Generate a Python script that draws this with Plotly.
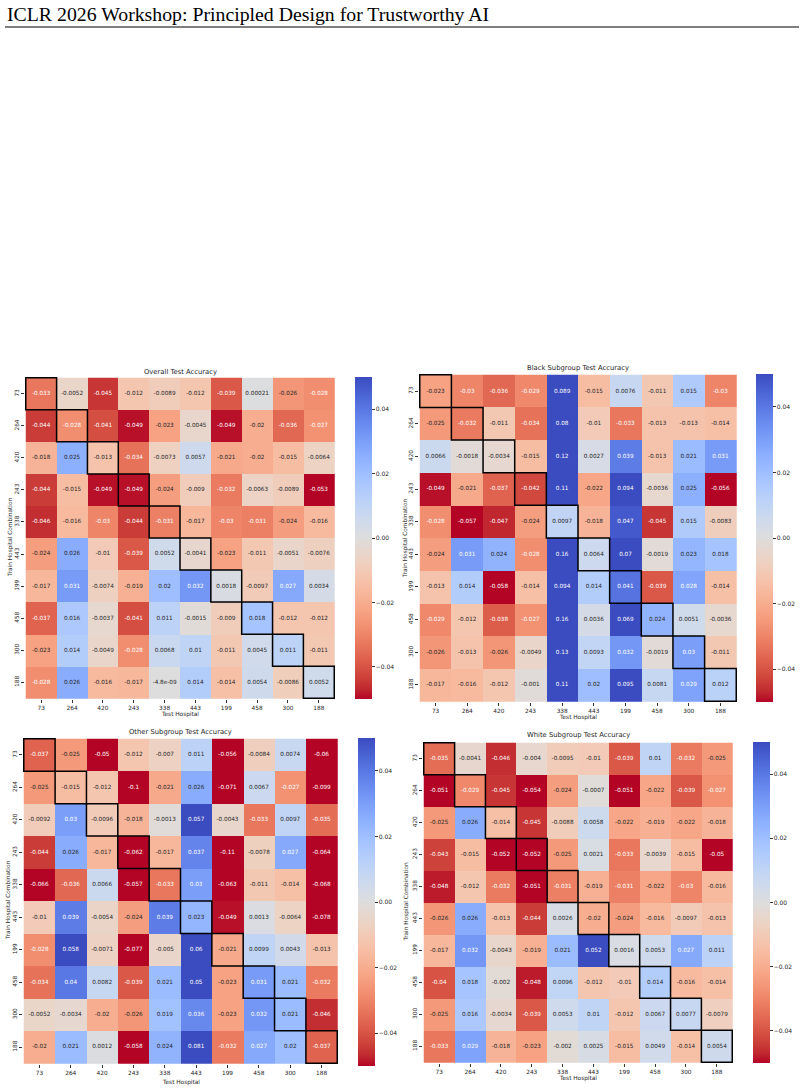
import plotly.graph_objects as go

W, H = 804, 1091

hospitals = ["73", "264", "420", "243", "338", "443", "199", "458", "300", "188"]

overall = [
    [-0.033, -0.0052, -0.045, -0.012, -0.0089, -0.012, -0.039, 0.00021, -0.026, -0.028],
    [-0.044, -0.028, -0.041, -0.049, -0.023, -0.0045, -0.049, -0.02, -0.036, -0.027],
    [-0.018, 0.025, -0.013, -0.034, -0.0073, 0.0057, -0.021, -0.02, -0.015, -0.0064],
    [-0.044, -0.015, -0.049, -0.049, -0.024, -0.009, -0.032, -0.0063, -0.0089, -0.053],
    [-0.046, -0.016, -0.03, -0.044, -0.031, -0.017, -0.03, -0.031, -0.024, -0.016],
    [-0.024, 0.026, -0.01, -0.039, 0.0052, -0.0041, -0.023, -0.011, -0.0051, -0.0076],
    [-0.017, 0.031, -0.0074, -0.019, 0.02, 0.032, 0.0018, -0.0097, 0.027, 0.0034],
    [-0.037, 0.016, -0.0037, -0.041, 0.011, -0.0015, -0.009, 0.018, -0.012, -0.012],
    [-0.023, 0.014, -0.0049, -0.028, 0.0068, 0.01, -0.011, 0.0045, 0.011, -0.011],
    [-0.028, 0.026, -0.016, -0.017, -4.8e-09, 0.014, -0.014, 0.0054, -0.0086, 0.0052],
]

black = [
    [-0.023, -0.03, -0.036, -0.029, 0.089, -0.015, 0.0076, -0.011, 0.015, -0.03],
    [-0.025, -0.032, -0.011, -0.034, 0.08, -0.01, -0.033, -0.013, -0.013, -0.014],
    [0.0066, -0.0018, -0.0034, -0.015, 0.12, 0.0027, 0.039, -0.013, 0.021, 0.031],
    [-0.049, -0.021, -0.037, -0.042, 0.11, -0.022, 0.094, -0.0036, 0.025, -0.056],
    [-0.028, -0.057, -0.047, -0.024, 0.0097, -0.018, 0.047, -0.045, 0.015, -0.0083],
    [-0.024, 0.031, 0.024, -0.028, 0.16, 0.0064, 0.07, -0.0019, 0.023, 0.018],
    [-0.013, 0.014, -0.058, -0.014, 0.094, 0.014, 0.041, -0.039, 0.028, -0.014],
    [-0.029, -0.012, -0.038, -0.027, 0.16, 0.0036, 0.069, 0.024, 0.0051, -0.0036],
    [-0.026, -0.013, -0.026, -0.0049, 0.13, 0.0093, 0.032, -0.0019, 0.03, -0.011],
    [-0.017, -0.016, -0.012, -0.001, 0.11, 0.02, 0.095, 0.0081, 0.029, 0.012],
]

other = [
    [-0.037, -0.025, -0.05, -0.012, -0.007, 0.011, -0.056, -0.0084, 0.0074, -0.06],
    [-0.025, -0.015, -0.012, -0.1, -0.021, 0.026, -0.071, 0.0067, -0.027, -0.099],
    [-0.0092, 0.03, -0.0096, -0.018, -0.0013, 0.057, -0.0043, -0.033, 0.0097, -0.035],
    [-0.044, 0.026, -0.017, -0.062, -0.017, 0.037, -0.11, -0.0078, 0.027, -0.064],
    [-0.066, -0.036, 0.0066, -0.057, -0.033, 0.03, -0.063, -0.011, -0.014, -0.068],
    [-0.01, 0.039, -0.0054, -0.024, 0.039, 0.023, -0.049, 0.0013, -0.0064, -0.078],
    [-0.028, 0.058, -0.0071, -0.077, -0.005, 0.06, -0.021, 0.0099, 0.0043, -0.013],
    [-0.034, 0.04, 0.0082, -0.039, 0.021, 0.05, -0.023, 0.031, 0.021, -0.032],
    [-0.0052, -0.0034, -0.02, -0.026, 0.019, 0.036, -0.023, 0.032, 0.021, -0.046],
    [-0.02, 0.021, 0.0012, -0.058, 0.024, 0.081, -0.032, 0.027, 0.02, -0.037],
]

white = [
    [-0.035, -0.0041, -0.046, -0.004, -0.0095, -0.01, -0.039, 0.01, -0.032, -0.025],
    [-0.051, -0.029, -0.045, -0.054, -0.024, -0.0007, -0.051, -0.022, -0.039, -0.027],
    [-0.025, 0.026, -0.014, -0.045, -0.0088, 0.0058, -0.022, -0.019, -0.022, -0.018],
    [-0.043, -0.015, -0.052, -0.052, -0.025, 0.0021, -0.033, -0.0039, -0.015, -0.05],
    [-0.048, -0.012, -0.032, -0.051, -0.031, -0.019, -0.031, -0.022, -0.03, -0.016],
    [-0.026, 0.026, -0.013, -0.044, 0.0026, -0.02, -0.024, -0.016, -0.0097, -0.013],
    [-0.017, 0.032, -0.0043, -0.019, 0.021, 0.052, 0.0016, 0.0053, 0.027, 0.011],
    [-0.04, 0.018, -0.002, -0.048, 0.0096, -0.012, -0.01, 0.014, -0.016, -0.014],
    [-0.025, 0.016, -0.0034, -0.039, 0.0053, 0.01, -0.012, 0.0067, 0.0077, -0.0079],
    [-0.033, 0.029, -0.018, -0.023, -0.002, 0.0025, -0.015, 0.0049, -0.014, 0.0054],
]

titles = ["Overall Test Accuracy", "Black Subgroup Test Accuracy",
          "Other Subgroup Test Accuracy", "White Subgroup Test Accuracy"]
panels = [overall, black, other, white]

ZMIN, ZMAX = -0.05, 0.05
cb_ticks = [-0.04, -0.02, 0.0, 0.02, 0.04]

# Moreland coolwarm table (blue -> red); reversed below so negative -> red
coolwarm_rgb = [
    (59, 76, 192), (68, 90, 204), (77, 104, 215), (87, 117, 225), (98, 130, 234),
    (108, 142, 241), (119, 154, 247), (130, 165, 251), (141, 176, 254), (152, 185, 255),
    (163, 194, 255), (174, 201, 253), (184, 208, 249), (194, 213, 244), (204, 217, 238),
    (213, 219, 230), (221, 221, 221), (229, 216, 209), (236, 211, 197), (241, 204, 185),
    (245, 196, 173), (247, 187, 160), (247, 177, 148), (247, 166, 135), (244, 154, 123),
    (241, 141, 111), (236, 127, 99), (229, 112, 88), (222, 96, 77), (213, 80, 66),
    (203, 62, 56), (192, 40, 47), (180, 4, 38),
]
rev = coolwarm_rgb[::-1]
n = len(rev) - 1
cw_stops = [(i / n, c) for i, c in enumerate(rev)]
colorscale = [[p, "rgb(%d,%d,%d)" % c] for p, c in cw_stops]


def color_at(v):
    t = (v - ZMIN) / (ZMAX - ZMIN)
    t = min(max(t, 0.0), 1.0)
    for (p0, c0), (p1, c1) in zip(cw_stops[:-1], cw_stops[1:]):
        if p0 <= t <= p1:
            f = (t - p0) / (p1 - p0)
            return [c0[i] + f * (c1[i] - c0[i]) for i in range(3)]
    return list(cw_stops[-1][1])


def luminance(rgb):
    out = []
    for c in rgb:
        c = c / 255.0
        out.append(c / 12.92 if c <= 0.03928 else ((c + 0.055) / 1.055) ** 2.4)
    return 0.2126 * out[0] + 0.7152 * out[1] + 0.0722 * out[2]


# pixel geometry: heatmap box (x0, x1, y0, y1), colorbar (x, y0, y1)
geo = [
    dict(hm=(25, 335, 377, 699), cb=(355, 377, 699), title_y=372, xl_y=714, yl_x=10),
    dict(hm=(419, 737, 374, 702), cb=(756, 374, 702), title_y=368, xl_y=718, yl_x=405),
    dict(hm=(23, 338, 738, 1064), cb=(358, 738, 1066), title_y=732, xl_y=1082, yl_x=8),
    dict(hm=(423, 733, 742, 1063), cb=(753, 742, 1063), title_y=735, xl_y=1078, yl_x=406),
]

FONT = "DejaVu Sans"
fig = go.Figure()
annotations = []
shapes = []
layout_axes = {}

for k, (z, title, g) in enumerate(zip(panels, titles, geo)):
    sfx = "" if k == 0 else str(k + 1)
    xa, ya = "x" + sfx, "y" + sfx
    x0, x1, y0, y1 = g["hm"]
    cbx, cby0, cby1 = g["cb"]
    fig.add_trace(go.Heatmap(
        z=z, x=hospitals, y=hospitals, xaxis=xa, yaxis=ya,
        zmin=ZMIN, zmax=ZMAX, colorscale=colorscale, hoverinfo="skip",
        colorbar=dict(
            x=cbx / W, xanchor="left", y=1 - (cby0 + cby1) / 2 / H, yanchor="middle",
            len=cby1 - cby0, lenmode="pixels", thickness=17, thicknessmode="pixels",
            xpad=0, ypad=0, outlinewidth=0, tickvals=cb_ticks, tickformat=".2f",
            ticks="outside", ticklen=3, tickwidth=0.8, tickcolor="#333",
            tickfont=dict(family=FONT, size=6, color="#262626"),
        ),
    ))
    xs, ys, txt, cols = [], [], [], []
    for i, row in enumerate(z):
        for j, v in enumerate(row):
            xs.append(hospitals[j])
            ys.append(hospitals[i])
            txt.append(format(v, ".2g"))
            cols.append("#262626" if luminance(color_at(v)) > 0.408 else "white")
    fig.add_trace(go.Scatter(
        x=xs, y=ys, text=txt, mode="text", xaxis=xa, yaxis=ya,
        textfont=dict(family=FONT, size=5.7, color=cols),
        hoverinfo="skip", showlegend=False,
    ))
    layout_axes["xaxis" + sfx] = dict(
        domain=[x0 / W, x1 / W], anchor=ya, type="category",
        showgrid=False, zeroline=False, showline=False,
        ticks="outside", ticklen=3, tickwidth=0.8, tickcolor="#333",
        tickfont=dict(family=FONT, size=5.8, color="#262626"),
    )
    layout_axes["yaxis" + sfx] = dict(
        domain=[1 - y1 / H, 1 - y0 / H], anchor=xa, type="category",
        autorange="reversed", showgrid=False, zeroline=False, showline=False,
        ticks="outside", ticklen=3, tickwidth=0.8, tickcolor="#333", tickangle=-90,
        tickfont=dict(family=FONT, size=5.8, color="#262626"),
    )
    for i in range(len(hospitals)):
        shapes.append(dict(type="rect", xref=xa, yref=ya, x0=i - 0.5, x1=i + 0.5,
                           y0=i - 0.5, y1=i + 0.5, line=dict(color="black", width=1.5)))
    cx = (x0 + x1) / 2
    annotations.append(dict(text=title, x=cx / W, y=1 - g["title_y"] / H, xref="paper", yref="paper",
                            showarrow=False, xanchor="center", yanchor="middle",
                            font=dict(family=FONT, size=6.8, color="#262626")))
    annotations.append(dict(text="Test Hospital", x=cx / W, y=1 - g["xl_y"] / H, xref="paper", yref="paper",
                            showarrow=False, xanchor="center", yanchor="middle",
                            font=dict(family=FONT, size=5.8, color="#262626")))
    annotations.append(dict(text="Train Hospital Combination", x=g["yl_x"] / W,
                            y=1 - (y0 + y1) / 2 / H, xref="paper", yref="paper",
                            showarrow=False, xanchor="center", yanchor="middle", textangle=-90,
                            font=dict(family=FONT, size=5.8, color="#262626")))

annotations.append(dict(text="ICLR 2026 Workshop: Principled Design for Trustworthy AI",
                        x=5 / W, y=1 - 14 / H, xref="paper", yref="paper", showarrow=False,
                        xanchor="left", yanchor="middle",
                        font=dict(family="Liberation Serif", size=19.8, color="black")))
shapes.append(dict(type="line", xref="paper", yref="paper", x0=5 / W, x1=799 / W,
                   y0=1 - 27 / H, y1=1 - 27 / H, line=dict(color="black", width=1.2)))

fig.update_layout(
    width=W, height=H, margin=dict(l=0, r=0, t=0, b=0),
    paper_bgcolor="white", plot_bgcolor="white", showlegend=False,
    annotations=annotations, shapes=shapes, **layout_axes,
)

fig.write_html("out.html", config={"displayModeBar": False})
